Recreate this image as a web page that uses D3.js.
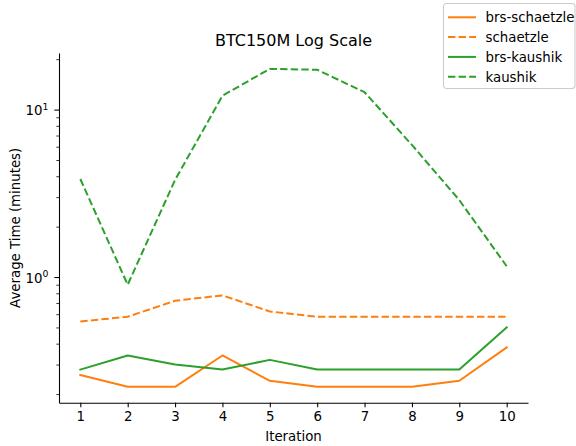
<!DOCTYPE html>
<html>
<head>
<meta charset="utf-8">
<script src="https://cdn.jsdelivr.net/npm/d3@7"></script>
<style>
  html, body { margin: 0; padding: 0; background: #fff; }
  svg { display: block; font-family: "DejaVu Sans", sans-serif; }
</style>
</head>
<body>
<svg id="chart" width="576" height="446"></svg>
<script>
// Iterations on the x axis
const iterations = [1, 2, 3, 4, 5, 6, 7, 8, 9, 10];

// Average time per iteration (minutes) for each run
const brsSchaetzle = [0.26, 0.221, 0.221, 0.34, 0.24, 0.221, 0.221, 0.221, 0.24, 0.38];
const schaetzle    = [0.543, 0.579, 0.722, 0.777, 0.623, 0.579, 0.579, 0.579, 0.579, 0.579];
const brsKaushik   = [0.28, 0.34, 0.30, 0.28, 0.32, 0.28, 0.28, 0.28, 0.28, 0.50];
const kaushik      = [3.85, 0.90, 3.8, 12.1, 17.5, 17.3, 12.7, 6.15, 2.88, 1.16];

const seriesNames = ["brs-schaetzle", "schaetzle", "brs-kaushik", "kaushik"];
const xTickLabels = ["1", "2", "3", "4", "5", "6", "7", "8", "9", "10"];
const yMajorTicks = [1, 10];
const yMajorLabels = [["10", "0"], ["10", "1"]];

const seriesValues = [brsSchaetzle, schaetzle, brsKaushik, kaushik];
const seriesColors = ["#ff7f0e", "#ff7f0e", "#2ca02c", "#2ca02c"];
const seriesDash = [null, "7.4,3.2", null, "7.4,3.2"];

const FS = 13.33;   // tick / label / legend font size
const LW = 2;       // line width

const svg = d3.select("#chart");
const margin = { left: 59, right: 48, top: 53, bottom: 43.3 };
const W = 576, H = 446;
const x0 = margin.left, x1 = W - margin.right;
const y0 = H - margin.bottom, y1 = margin.top;

// x scale with a 5% margin on either side of the data range
const xMin = d3.min(iterations), xMax = d3.max(iterations);
const xPad = (xMax - xMin) * 0.05;
const x = d3.scaleLinear().domain([xMin - xPad, xMax + xPad]).range([x0, x1]);

// log y scale with 5% padding in log space
const all = seriesValues.flat();
const lmin = Math.log10(d3.min(all)), lmax = Math.log10(d3.max(all));
const lpad = (lmax - lmin) * 0.05;
const y = d3.scaleLog()
  .domain([Math.pow(10, lmin - lpad), Math.pow(10, lmax + lpad)])
  .range([y0, y1]);

// lines
const line = d3.line().x((d, i) => x(iterations[i])).y(d => y(d));
const plot = svg.append("g");
seriesValues.forEach((vals, k) => {
  plot.append("path")
    .datum(vals)
    .attr("d", line)
    .attr("fill", "none")
    .attr("stroke", seriesColors[k])
    .attr("stroke-width", LW)
    .attr("stroke-dasharray", seriesDash[k])
    .attr("stroke-linecap", seriesDash[k] ? "butt" : "square")
    .attr("stroke-linejoin", "round");
});

// x axis
const xAxis = d3.axisBottom(x)
  .tickValues(iterations)
  .tickFormat((d, i) => xTickLabels[i])
  .tickSizeInner(4.67)
  .tickSizeOuter(0)
  .tickPadding(4.67);
const gx = svg.append("g").attr("transform", `translate(0,${y0})`).call(xAxis);
gx.select(".domain").attr("stroke", "#000").attr("stroke-width", 1.07);
gx.selectAll(".tick line").attr("stroke", "#000").attr("stroke-width", 1.07);
gx.selectAll(".tick text").attr("font-size", FS).attr("fill", "#000")
  .attr("font-family", "DejaVu Sans");

// y axis: minor ticks
const [dLo, dHi] = y.domain();
const minor = [];
for (let e = Math.floor(Math.log10(dLo)); e <= Math.ceil(Math.log10(dHi)); e++) {
  for (let m = 2; m <= 9; m++) {
    const v = m * Math.pow(10, e);
    if (v >= dLo && v <= dHi) minor.push(v);
  }
}
const gyMinor = svg.append("g").attr("transform", `translate(${x0},0)`)
  .call(d3.axisLeft(y).tickValues(minor).tickFormat("").tickSizeInner(2.67).tickSizeOuter(0));
gyMinor.select(".domain").remove();
gyMinor.selectAll(".tick line").attr("stroke", "#000").attr("stroke-width", 0.8);

// y axis: major ticks with superscript labels
const gy = svg.append("g").attr("transform", `translate(${x0},0)`)
  .call(d3.axisLeft(y).tickValues(yMajorTicks).tickFormat("").tickSizeInner(4.67).tickSizeOuter(0));
gy.select(".domain").attr("stroke", "#000").attr("stroke-width", 1.07);
gy.selectAll(".tick line").attr("stroke", "#000").attr("stroke-width", 1.07);
gy.selectAll(".tick").each(function (d, i) {
  const t = d3.select(this).append("text")
    .attr("x", -10.5)
    .attr("y", 5)
    .attr("text-anchor", "end")
    .attr("font-size", FS)
    .attr("fill", "#000")
    .attr("font-family", "DejaVu Sans");
  t.append("tspan").text(yMajorLabels[i][0]);
  t.append("tspan").attr("font-size", 9.3).attr("dy", -5.5).text(yMajorLabels[i][1]);
});

// labels
svg.append("text")
  .attr("x", (x0 + x1) / 2).attr("y", 45.5)
  .attr("text-anchor", "middle")
  .attr("font-size", 16)
  .text("BTC150M Log Scale");

svg.append("text")
  .attr("x", (x0 + x1) / 2).attr("y", 440.5)
  .attr("text-anchor", "middle")
  .attr("font-size", FS)
  .text("Iteration");

svg.append("text")
  .attr("transform", `translate(20,${(y0 + y1) / 2}) rotate(-90)`)
  .attr("text-anchor", "middle")
  .attr("font-size", FS)
  .text("Average Time (minutes)");

// legend
const lg = svg.append("g").attr("transform", "translate(443.5,3.5)");
lg.append("rect")
  .attr("width", 131.5).attr("height", 85)
  .attr("rx", 3).attr("ry", 3)
  .attr("fill", "#fff").attr("fill-opacity", 0.8)
  .attr("stroke", "#cccccc").attr("stroke-width", 1.07);
seriesNames.forEach((name, k) => {
  const yy = 13.8 + k * 19.8;
  lg.append("line")
    .attr("x1", 4.5).attr("x2", 32.5).attr("y1", yy).attr("y2", yy)
    .attr("stroke", seriesColors[k]).attr("stroke-width", LW)
    .attr("stroke-dasharray", seriesDash[k]);
  lg.append("text")
    .attr("x", 42).attr("y", yy + 4.8)
    .attr("font-size", FS)
    .text(name);
});
</script>
</body>
</html>
